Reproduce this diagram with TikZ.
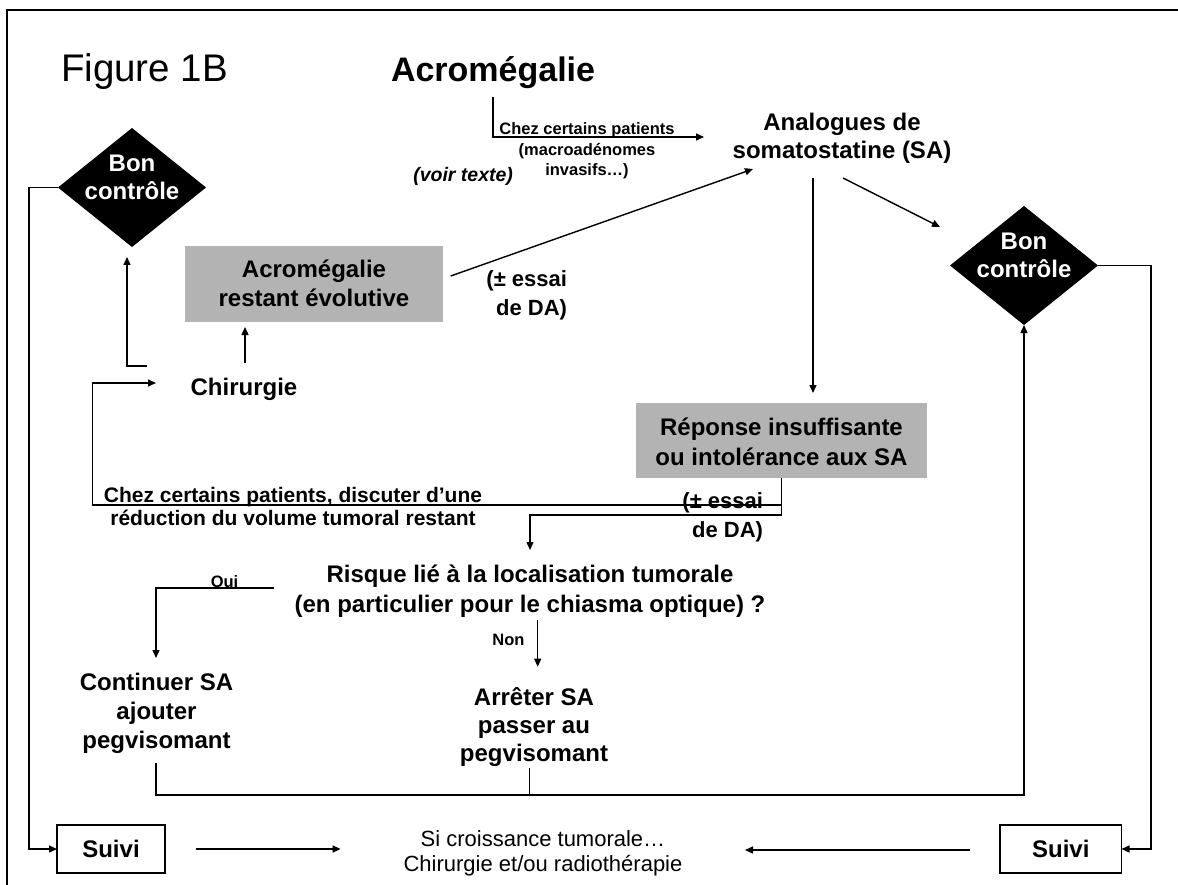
\documentclass[tikz,border=0pt]{standalone}
\usepackage{fontspec}
\setmainfont{Liberation Sans}
\usetikzlibrary{arrows.meta,shapes.geometric}
\definecolor{boxgray}{RGB}{179,179,179}
\begin{document}
\begin{tikzpicture}[x=1pt,y=-1pt,
  every node/.style={inner sep=0pt, outer sep=0pt},
  conn/.style={line width=1.4pt},
  arr/.style={conn, -{Triangle[length=8pt,width=7pt]}},
  txt/.style 2 args={font=\fontsize{#1pt}{#2pt}\selectfont\bfseries, align=center},
  graybox/.style={fill=boxgray},
  decision/.style={diamond, fill=black, minimum width=148pt, minimum height=119pt},
  suivibox/.style={draw, line width=1.5pt, fill=white, minimum height=48pt,
    font=\fontsize{24pt}{29pt}\selectfont\bfseries}
]
\useasboundingbox (0,0) rectangle (1178,885);
% frame
\draw[line width=2.5pt] (7,885) -- (7,10) -- (1178,10);

% titles
\node[font=\fontsize{38.5pt}{46pt}\selectfont, anchor=base west] (fig) at (61,82) {Figure 1B};
\node[font=\fontsize{34pt}{40pt}\selectfont\bfseries, anchor=base west] (acro) at (391,82) {Acromégalie};

\node[txt={16.5}{20.5}, anchor=north] (chez) at (587,121.5)
  {\rule{0pt}{13.5pt}Chez certains patients\\(macroadénomes\\invasifs…)};
\node[font=\fontsize{19.5pt}{23pt}\selectfont\bfseries\itshape, anchor=base east] (voir) at (513,181.7) {(voir texte)};

\node[txt={24}{28}, anchor=north] (sa) at (842,111)
  {\rule{0pt}{20pt}Analogues de\\somatostatine (SA)};

% gray boxes
\node[graybox, minimum width=258pt, minimum height=76pt, txt={24}{29}] (box1) at (314,284)
  {\rule{0pt}{20pt}Acromégalie\\restant évolutive\rule[-3pt]{0pt}{0pt}};
\node[graybox, minimum width=291pt, minimum height=75pt, txt={24}{30}] (rep) at (781.5,440.5)
  {\rule{0pt}{21pt}Réponse insuffisante\\ou intolérance aux SA\rule[-2pt]{0pt}{0pt}};

\node[font=\fontsize{22pt}{28.5pt}\selectfont\bfseries, align=right, anchor=north east] (e1) at (567,268.7)
  {\rule{0pt}{18pt}(± essai\\de DA)};
\node[font=\fontsize{22pt}{29pt}\selectfont\bfseries, align=right, anchor=north east] (e2) at (763,490)
  {\rule{0pt}{18pt}(± essai\\de DA)};

% decisions
\node[decision] (dL) at (132,187.5) {};
\node[txt={24}{28}, text=white, anchor=north] (dLt) at (132,152) {\rule{0pt}{20pt}Bon\\contrôle};
\node[decision] (dR) at (1024,265.5) {};
\node[txt={24}{28}, text=white, anchor=north] (dRt) at (1024,230) {\rule{0pt}{20pt}Bon\\contrôle};

\node[txt={24}{29}, anchor=base] (chir) at (244,395) {Chirurgie};

\node[txt={21}{23.5}, anchor=north] (disc) at (293,485)
  {\rule{0pt}{17pt}Chez certains patients, discuter d’une\\réduction du volume tumoral restant};

\node[txt={24}{30}, anchor=north] (risque) at (530,562)
  {\rule{0pt}{20pt}Risque lié à la localisation tumorale\\(en particulier pour le chiasma optique) ?};

\node[txt={16.5}{20}, anchor=base] (oui) at (224.5,587) {Oui};
\node[txt={16.5}{20}, anchor=base] (non) at (508.5,645) {Non};

\node[txt={24}{29}, anchor=north] (cont) at (156.5,670.7)
  {\rule{0pt}{20pt}Continuer SA\\ajouter\\pegvisomant};
\node[txt={24}{28}, anchor=north] (arr) at (534,685)
  {\rule{0pt}{20pt}Arrêter SA\\passer au\\pegvisomant};

\node[suivibox, minimum width=108pt] (suivL) at (111,849) {Suivi};
\node[suivibox, minimum width=121.5pt] (suivR) at (1060.75,849) {Suivi};

\node[font=\fontsize{22pt}{25.7pt}\selectfont, align=center, anchor=north] (sicr) at (543,828)
  {\rule{0pt}{18pt}Si croissance tumorale…\\Chirurgie et/ou radiothérapie};

% connector points
\coordinate (acroS) at (493,97);
\coordinate (saIn) at (704,137);
\coordinate (b1out) at (450.7,276);
\coordinate (saIn2) at (753,169);
\coordinate (saOut1) at (813,178);
\coordinate (repIn) at (813,393);
\coordinate (saOut2) at (843,178);
\coordinate (dRin) at (940,227);
\coordinate (rr) at (1151,849);
\coordinate (ll) at (29,849);
\coordinate (k1) at (147,366);
\coordinate (k2) at (127,257);
\coordinate (c1) at (245,363);
\coordinate (c2) at (245,327);
\coordinate (r2) at (530,515);
\coordinate (r3) at (530,550);
\coordinate (d1) at (92.6,505);
\coordinate (chirIn) at (156,383);
\coordinate (o1) at (273.6,588);
\coordinate (o2) at (156,658);
\coordinate (n1) at (537.7,620);
\coordinate (n2) at (537.7,666.7);
\coordinate (cb) at (156,763);
\coordinate (hb) at (1024,795);
\coordinate (ab) at (529.5,768);
\coordinate (s1) at (196,849);
\coordinate (s2) at (340.6,849);
\coordinate (s3) at (970,850);
\coordinate (s4) at (745,850);

% connectors
\draw[arr] (acroS) |- (saIn);
\draw[arr] (b1out) -- (saIn2);
\draw[arr] (saOut1) -- (repIn);
\draw[arr] (saOut2) -- (dRin);
\draw[arr] (dR.east) -| (rr) -- (suivR.east);
\draw[arr] (dL.west) -| (ll) -- (suivL.west);
\draw[arr] (k1) -| (k2);
\draw[arr] (c1) -- (c2);
\draw[arr] (rep.south) |- (r2) -- (r3);
\draw[arr] (rep.south |- d1) -- (d1) |- (chirIn);
\draw[arr] (o1) -| (o2);
\draw[arr] (n1) -- (n2);
\draw[arr] (cb) |- (hb) -- (dR.south);
\draw[conn] (ab) -- (ab |- hb);
\draw[arr] (s1) -- (s2);
\draw[arr] (s3) -- (s4);
\end{tikzpicture}
\end{document}
